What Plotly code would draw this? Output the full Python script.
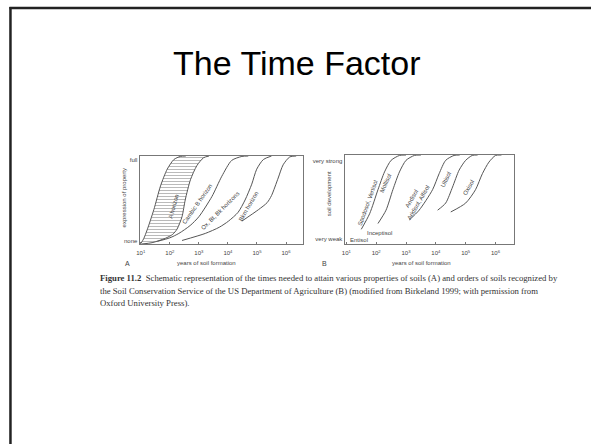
import plotly.graph_objects as go

W, H = 591, 444

# ---------------- data (log10 years, fraction of development) ----------------
tick_vals = [1, 2, 3, 4, 5, 6]
tick_text = ["10<sup>1</sup>", "10<sup>2</sup>", "10<sup>3</sup>", "10<sup>4</sup>", "10<sup>5</sup>", "10<sup>6</sup>"]

a_left_x = [0.99, 1.1, 1.22, 1.45, 1.68, 1.91, 2.14, 2.36, 2.55]
a_left_y = [0.0, 0.06, 0.16, 0.39, 0.66, 0.85, 0.96, 0.995, 1.0]
a_right_x = [1.03, 1.39, 1.85, 2.1, 2.25, 2.42, 2.53, 2.71, 2.93, 3.16, 3.35]
a_right_y = [0.0, 0.015, 0.065, 0.11, 0.17, 0.31, 0.5, 0.73, 0.89, 0.98, 1.0]
cambic_x = [1.57, 2.0, 2.31, 2.7, 3.0, 3.45, 3.79, 4.13, 4.48, 4.7]
cambic_y = [0.03, 0.07, 0.12, 0.21, 0.31, 0.54, 0.77, 0.95, 0.995, 1.0]
oxbt_x = [2.42, 3.22, 3.7, 4.02, 4.35, 4.59, 4.82, 4.99, 5.22, 5.5]
oxbt_y = [0.04, 0.12, 0.19, 0.26, 0.36, 0.5, 0.68, 0.85, 0.96, 1.0]
bkm_x = [4.48, 5.05, 5.35, 5.5, 5.73, 5.9, 6.13, 6.35]
bkm_y = [0.26, 0.39, 0.47, 0.55, 0.75, 0.9, 0.99, 1.0]

spod_x = [1.5, 1.78, 2.06, 2.28, 2.5, 2.78, 3.0]
spod_y = [0.165, 0.34, 0.61, 0.81, 0.94, 0.995, 1.0]
moll_x = [2.06, 2.33, 2.56, 2.78, 3.0, 3.28, 3.5]
moll_y = [0.23, 0.38, 0.61, 0.81, 0.94, 0.995, 1.0]
andi_x = [3.11, 3.44, 3.89, 4.11, 4.33, 4.61, 4.8]
andi_y = [0.27, 0.38, 0.61, 0.79, 0.94, 0.995, 1.0]
ulti_x = [4.06, 4.33, 4.56, 4.78, 5.0, 5.22, 5.4]
ulti_y = [0.38, 0.46, 0.64, 0.83, 0.94, 0.995, 1.0]
oxi_x = [4.5, 5.0, 5.33, 5.56, 5.78, 6.0, 6.2]
oxi_y = [0.36, 0.46, 0.61, 0.79, 0.92, 0.995, 1.0]

caption_lines = [
    "<b>Figure 11.2</b>  Schematic representation of the times needed to attain various properties of soils (A) and orders of soils recognized by",
    "the Soil Conservation Service of the US Department of Agriculture (B) (modified from Birkeland 1999; with permission from",
    "Oxford University Press).",
]

# ---------------- figure ----------------
LINE = "#555555"
TXT = "#444444"
SMOOTH = 0.7
fig = go.Figure()

# hatched A-horizon band
fig.add_trace(go.Scatter(
    x=a_left_x + a_right_x[::-1], y=a_left_y + a_right_y[::-1],
    mode="lines", fill="toself", line=dict(width=0, shape="spline", smoothing=SMOOTH),
    fillcolor="rgba(0,0,0,0)",
    fillpattern=dict(shape="-", size=3, solidity=0.3, fgcolor="#666666", bgcolor="rgba(0,0,0,0)"),
    xaxis="x", yaxis="y", hoverinfo="skip"))

for xs, ys in [(a_left_x, a_left_y), (a_right_x, a_right_y), (cambic_x, cambic_y),
               (oxbt_x, oxbt_y), (bkm_x, bkm_y)]:
    fig.add_trace(go.Scatter(x=xs, y=ys, mode="lines",
                             line=dict(color=LINE, width=1, shape="spline", smoothing=SMOOTH),
                             xaxis="x", yaxis="y"))
for xs, ys in [(spod_x, spod_y), (moll_x, moll_y), (andi_x, andi_y),
               (ulti_x, ulti_y), (oxi_x, oxi_y)]:
    fig.add_trace(go.Scatter(x=xs, y=ys, mode="lines",
                             line=dict(color=LINE, width=1, shape="spline", smoothing=SMOOTH),
                             xaxis="x2", yaxis="y2"))

def px(x):
    return x / W

def py(y):
    return 1 - y / H

ax_common = dict(showgrid=False, zeroline=False, showline=True, mirror=True,
                 linecolor="#777777", linewidth=1)
tickfont = dict(family="Liberation Sans", size=6, color=TXT)

fig.update_layout(
    width=W, height=H, margin=dict(l=0, r=0, t=0, b=0),
    paper_bgcolor="white", plot_bgcolor="white", showlegend=False,
    xaxis=dict(domain=[px(137.3), px(302)], range=[0.96, 6.6], tickvals=tick_vals,
               ticktext=tick_text, ticks="inside", ticklen=2, tickcolor="#777777",
               tickfont=tickfont, ticklabelstandoff=3, anchor="y", **ax_common),
    yaxis=dict(domain=[py(244), py(156)], range=[0, 1], tickvals=[0.04, 0.96],
               ticktext=["none", "full"], ticks="", tickfont=tickfont, anchor="x",
               **ax_common),
    xaxis2=dict(domain=[px(343.3), px(513.3)], range=[0.94, 6.61], tickvals=tick_vals,
                ticktext=tick_text, ticks="inside", ticklen=2, tickcolor="#777777",
                tickfont=tickfont, ticklabelstandoff=3, anchor="y2", **ax_common),
    yaxis2=dict(domain=[py(244), py(155)], range=[0, 1], tickvals=[0.06, 0.93],
                ticktext=["very weak", "very strong"], ticks="", tickfont=tickfont,
                anchor="x2", **ax_common),
)

anns = []
lab = dict(family="Liberation Sans", size=6, color=TXT)
def dlab(text, x, y, ang, xr="x", yr="y", xanchor="center"):
    anns.append(dict(text=text, x=x, y=y, xref=xr, yref=yr, textangle=ang,
                     showarrow=False, font=lab, xanchor=xanchor, yanchor="middle"))

dlab("A horizon", 2.14, 0.43, -75)
dlab("Cambic B horizon", 2.95, 0.45, -55)
dlab("Ox, Bt, Bk horizons", 3.73, 0.37, -45)
dlab("Bkm horizon", 4.72, 0.43, -60)
dlab("Spodosol, Vertisol", 1.72, 0.46, -70, "x2", "y2")
dlab("Mollisol", 2.33, 0.68, -65, "x2", "y2")
dlab("Andisol<br>Aridisol, Alfisol", 3.33, 0.49, -60, "x2", "y2")
dlab("Ultisol", 4.33, 0.72, -65, "x2", "y2")
dlab("Oxisol", 5.11, 0.64, -60, "x2", "y2")
dlab("Inceptisol", 2.11, 0.12, 0, "x2", "y2")
dlab("Entisol", 1.05, 0.05, 0, "x2", "y2", xanchor="left")

def plab(text, x, y, ang=0, size=6, xanchor="center"):
    anns.append(dict(text=text, x=px(x), y=py(y), xref="paper", yref="paper",
                     textangle=ang, showarrow=False, xanchor=xanchor, yanchor="middle",
                     font=dict(family="Liberation Sans", size=size, color=TXT)))

plab("expression of property", 122, 198, -90)
plab("soil development", 328, 194, -90)
plab("years of soil formation", 205, 263)
plab("years of soil formation", 421, 263)
plab("A", 125, 263, size=7)
plab("B", 323, 263, size=7)

# caption
for i, line in enumerate(caption_lines):
    anns.append(dict(text=line, x=px(95), y=py(277.7 + 12.8 * i), xref="paper", yref="paper",
                     showarrow=False, xanchor="left", yanchor="middle",
                     font=dict(family="Liberation Serif", size=8.7, color="#333333")))

# title
anns.append(dict(text="The Time Factor", x=px(296), y=py(63), xref="paper", yref="paper",
                 showarrow=False, xanchor="center", yanchor="middle",
                 font=dict(family="Liberation Sans", size=34, color="black")))

fig.update_layout(annotations=anns)

# slide frame
fig.update_layout(shapes=[
    dict(type="line", xref="paper", yref="paper", x0=px(7.5), x1=px(7.5), y0=py(7), y1=py(444),
         line=dict(color="#222222", width=2.5)),
    dict(type="line", xref="paper", yref="paper", x0=px(6.5), x1=px(591), y0=py(8), y1=py(8),
         line=dict(color="#222222", width=2.5)),
])

fig.write_html("out.html")
